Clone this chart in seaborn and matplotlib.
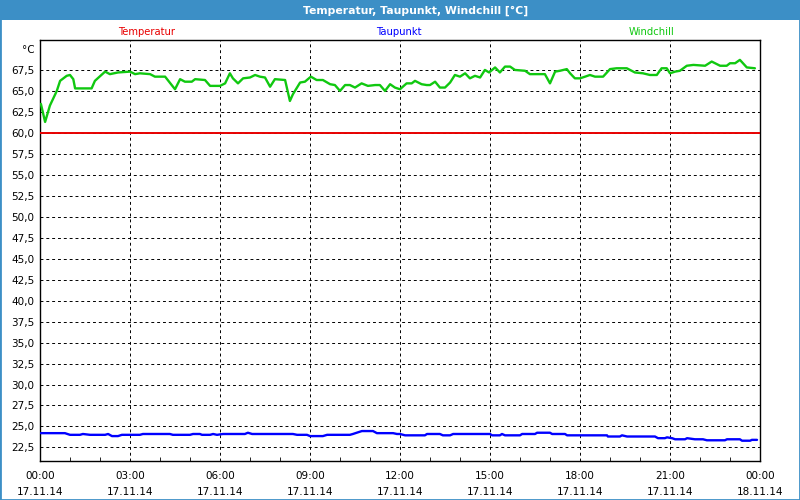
import numpy as np
import pandas as pd
import matplotlib as mpl
mpl.use('Agg')
import matplotlib.pyplot as plt
import seaborn as sns

# Windchill (green), hours since 17.11.14 00:00
wind_hours = [0.03, 0.17, 0.33, 0.56, 0.67, 0.89, 1.0, 1.11, 1.17, 1.72, 1.83, 2.17, 2.33, 2.6,
              3.0, 3.17, 3.33, 3.67, 3.83, 4.17, 4.5, 4.67, 4.83, 5.06, 5.17, 5.5, 5.67, 6.0,
              6.17, 6.33, 6.43, 6.6, 6.77, 7.0, 7.17, 7.33, 7.5, 7.67, 7.83, 8.17, 8.33, 8.43,
              8.67, 8.83, 9.03, 9.22, 9.43, 9.67, 9.83, 10.0, 10.17, 10.33, 10.5, 10.72, 10.93,
              11.17, 11.33, 11.5, 11.67, 11.83, 12.0, 12.22, 12.39, 12.5, 12.72, 12.89, 13.0,
              13.17, 13.33, 13.5, 13.67, 13.83, 14.0, 14.17, 14.33, 14.5, 14.67, 14.83, 14.97,
              15.17, 15.33, 15.5, 15.67, 15.83, 16.17, 16.33, 16.72, 16.83, 17.0, 17.17, 17.33,
              17.56, 17.67, 17.83, 18.0, 18.17, 18.33, 18.5, 18.77, 19.0, 19.22, 19.56, 19.83,
              20.1, 20.33, 20.56, 20.72, 20.89, 21.0, 21.17, 21.33, 21.56, 21.78, 22.17, 22.39,
              22.67, 22.89, 23.0, 23.17, 23.33, 23.56, 23.83]
wind_vals = [63.45, 61.3, 63.25, 65.0, 66.2, 66.8, 66.9, 66.4, 65.3, 65.3, 66.2, 67.3, 67.0, 67.2,
             67.3, 67.0, 67.1, 67.0, 66.7, 66.7, 65.2, 66.4, 66.1, 66.1, 66.4, 66.3, 65.6, 65.6,
             65.9, 67.1, 66.5, 65.9, 66.5, 66.6, 66.9, 66.7, 66.6, 65.5, 66.4, 66.3, 63.8, 64.6,
             66.0, 66.1, 66.7, 66.3, 66.3, 65.8, 65.7, 65.0, 65.7, 65.7, 65.4, 65.9, 65.6,
             65.7, 65.7, 65.0, 65.8, 65.4, 65.2, 65.9, 65.9, 66.2, 65.8, 65.7, 65.7,
             66.1, 65.4, 65.4, 66.0, 66.9, 66.7, 67.1, 66.5, 66.8, 66.6, 67.5, 67.2,
             67.8, 67.2, 67.9, 67.9, 67.5, 67.4, 67.0, 67.0, 67.0, 65.9, 67.3, 67.4,
             67.6, 67.1, 66.5, 66.5, 66.7, 66.9, 66.7, 66.7, 67.6, 67.7, 67.7, 67.2,
             67.1, 66.9, 66.9, 67.7, 67.7, 67.1, 67.3, 67.4, 68.0, 68.1, 68.0, 68.5,
             68.0, 68.0, 68.3, 68.3, 68.7, 67.8, 67.7]

# Taupunkt (blue)
dew_hours = [0.03, 0.83, 1.0, 1.33, 1.43, 1.67, 2.17, 2.27, 2.4, 2.6, 2.73, 3.33, 3.43, 4.33,
             4.43, 5.0, 5.1, 5.33, 5.4, 5.67, 5.77, 5.9, 6.1, 6.83, 6.93, 7.07, 8.43, 8.57, 8.9,
             9.0, 9.43, 9.57, 10.33, 10.43, 10.6, 10.73, 11.1, 11.23, 11.77, 11.9, 12.0, 12.17,
             12.83, 12.9, 13.33, 13.43, 13.67, 13.77, 15.0, 15.07, 15.33, 15.4, 15.5, 16.0,
             16.07, 16.5, 16.57, 17.0, 17.07, 17.5, 17.57, 18.9, 18.93, 19.33, 19.4, 19.57,
             20.5, 20.6, 20.83, 20.9, 21.07, 21.17, 21.5, 21.57, 21.83, 22.1, 22.23, 22.83,
             22.9, 23.33, 23.4, 23.67, 23.73, 23.9]
dew_vals = [24.2, 24.2, 24.0, 24.0, 24.1, 24.0, 24.0, 24.1, 23.85, 23.85, 24.0, 24.0, 24.1, 24.1,
            24.0, 24.0, 24.1, 24.1, 24.0, 24.0, 24.1, 24.0, 24.1, 24.1, 24.25, 24.1, 24.1, 24.0, 24.0,
            23.85, 23.85, 24.0, 24.0, 24.1, 24.3, 24.45, 24.45, 24.2, 24.2, 24.1, 24.1, 23.94,
            23.94, 24.1, 24.1, 23.94, 23.94, 24.1, 24.1, 23.94, 23.94, 24.1, 23.94, 23.94,
            24.1, 24.1, 24.25, 24.25, 24.1, 24.1, 23.94, 23.94, 23.8, 23.8, 23.94, 23.8,
            23.8, 23.6, 23.6, 23.7, 23.6, 23.47, 23.47, 23.6, 23.47, 23.47, 23.35, 23.35,
            23.47, 23.47, 23.3, 23.3, 23.4, 23.4]

# Temperatur (red)
temp_hours = [0.0, 24.0]
temp_vals = [60.0, 60.0]

x_ticks = [0, 3, 6, 9, 12, 15, 18, 21, 24]
x_labels = ['00:00\n17.11.14', '03:00\n17.11.14', '06:00\n17.11.14', '09:00\n17.11.14',
            '12:00\n17.11.14', '15:00\n17.11.14', '18:00\n17.11.14', '21:00\n17.11.14',
            '00:00\n18.11.14']
y_ticks = [22.5, 25.0, 27.5, 30.0, 32.5, 35.0, 37.5, 40.0, 42.5, 45.0, 47.5, 50.0,
           52.5, 55.0, 57.5, 60.0, 62.5, 65.0, 67.5, 70.0]
y_labels = [f'{v:.1f}'.replace('.', ',') for v in y_ticks[:-1]] + ['°C']

series = ['Temperatur', 'Taupunkt', 'Windchill']
colors = {'Temperatur': '#e80000', 'Taupunkt': '#0000ff', 'Windchill': '#10c810'}

sns.set_style('white')
plt.rcParams['font.family'] = ['DejaVu Sans']

fig = plt.figure(figsize=(8, 5), dpi=100)
ax = fig.add_axes([40 / 800, 1 - 461 / 500, 720 / 800, 421 / 500])

grid_kw = dict(color='black', lw=0.7, ls=(0, (3, 3)), zorder=0)
for t in x_ticks[1:-1]:
    ax.axvline(t, **grid_kw)
for v in y_ticks[:-1]:
    ax.axhline(v, **grid_kw)

sns.lineplot(x=wind_hours, y=wind_vals, ax=ax, color=colors['Windchill'], lw=1.7, zorder=3)
sns.lineplot(x=dew_hours, y=dew_vals, ax=ax, color=colors['Taupunkt'], lw=1.7, zorder=3)
sns.lineplot(x=temp_hours, y=temp_vals, ax=ax, color=colors['Temperatur'], lw=1.4, zorder=3)

ax.set_xlim(0, 24)
ax.set_ylim(20.88, 71.07)
ax.set_xticks(x_ticks)
ax.set_xticklabels(x_labels, fontsize=7.5, linespacing=1.75)
ax.set_xticks(range(1, 24), minor=True)
ax.set_yticks(y_ticks)
ax.set_yticklabels(y_labels, fontsize=7.5)
ax.tick_params(axis='y', length=0, pad=4, labelcolor='black')
ax.tick_params(axis='x', which='major', length=0, pad=7, labelcolor='black')
ax.tick_params(axis='x', which='minor', length=3, direction='in', color='black', bottom=True)
for s in ax.spines.values():
    s.set_color('black')
    s.set_linewidth(1)
ax.set_xlabel('')
ax.set_ylabel('')

# title bar
fig.patches.append(mpl.patches.Rectangle((0, 1 - 20 / 500), 1, 20 / 500, transform=fig.transFigure,
                                         facecolor='#3c8fc6', edgecolor='none', zorder=0))
fig.patches.append(mpl.patches.Rectangle((0, 0), 1, 1, transform=fig.transFigure,
                                         facecolor='none', edgecolor='#3c8fc6', lw=2, zorder=5))
fig.text(416 / 800, 1 - 11 / 500, 'Temperatur, Taupunkt, Windchill [°C]', color='white',
         fontsize=7.8, fontweight='bold', ha='center', va='center')

# series labels
for name, xc in zip(series, [147, 399, 652]):
    fig.text(xc / 800, 1 - 32 / 500, name, color=colors[name], fontsize=7.2, ha='center', va='center')

fig.savefig('out.png', dpi=100)
